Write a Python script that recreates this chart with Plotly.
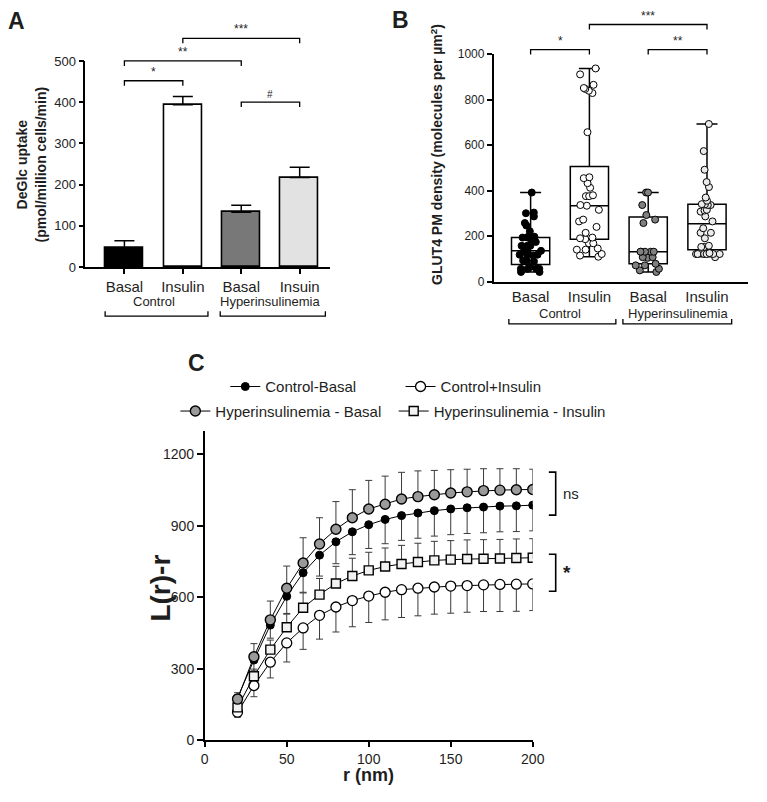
import plotly.graph_objects as go

W, H = 767, 802
FONT = "Liberation Sans, Arial, sans-serif"
TXT = "#1e1e1e"

# ---------------- data ----------------
# Panel A: 2-DeGlc uptake (mean + error)
a_labels = ["Basal", "Insulin", "Basal", "Insuin"]
a_values = [46, 394, 133, 217]
a_errors = [18, 20, 17, 25]
a_colors = ["#000000", "#ffffff", "#787878", "#e2e2e2"]
a_groups = ["Control", "Hyperinsulinemia"]

# Panel B: GLUT4 PM density (individual cells)
b_labels = ["Basal", "Insulin", "Basal", "Insulin"]
b_control_basal = [392, 301, 304, 287, 258, 247, 222, 198, 198, 198, 194, 194, 175, 175,
                   158, 158, 158, 136, 136, 136, 119, 119, 115, 119, 93, 89, 93, 65, 57,
                   57, 57, 57, 43, 43]
b_control_insulin = [937, 911, 865, 847, 839, 851, 829, 657, 455, 459, 433, 413, 380, 376,
                     376, 337, 334, 316, 265, 273, 241, 215, 191, 187, 194, 169, 169, 141,
                     146, 141, 122, 110, 115]
b_hyper_basal = [392, 392, 337, 273, 293, 258, 132, 132, 132, 132, 132, 108, 105, 108, 79,
                 72, 72, 43, 50, 57]
b_hyper_insulin = [693, 574, 492, 438, 416, 370, 356, 337, 337, 340, 341, 308, 313, 316,
                   287, 265, 235, 215, 215, 191, 153, 158, 153, 122, 126, 122, 122, 122,
                   122, 108, 122]
b_q1 = [76, 187, 79, 141]
b_median = [136, 334, 132, 255]
b_q3 = [194, 506, 284, 340]
b_min = [43, 110, 43, 110]
b_max = [392, 937, 392, 693]
b_fill = ["#000000", "#ffffff", "#808080", "#ebebeb"]

# Panel C: Ripley's L(r)-r
c_r = [20, 30, 40, 50, 60, 70, 80, 90, 100, 110, 120, 130, 140, 150, 160, 170, 180, 190, 200]
c_control_basal = [178, 336, 483, 604, 703, 777, 833, 875, 905, 927, 943, 954, 964, 971,
                   976, 979, 983, 984, 987]
c_control_insulin = [117, 229, 327, 408, 471, 524, 559, 586, 605, 621, 632, 638, 643, 647,
                     649, 652, 654, 655, 656]
c_hyper_basal = [172, 350, 505, 638, 744, 824, 886, 934, 971, 991, 1013, 1023, 1031, 1038,
                 1043, 1048, 1050, 1052, 1053]
c_hyper_insulin = [137, 268, 380, 474, 556, 611, 658, 689, 713, 729, 740, 748, 755, 758,
                   761, 762, 763, 765, 766]
c_control_basal_err = [18, 45, 55, 72, 82, 88, 92, 96, 100, 102, 104, 106, 107, 108, 108,
                       108, 108, 108, 108]
c_control_insulin_err = [21, 47, 66, 80, 90, 100, 105, 110, 111, 116, 117, 116, 114, 114,
                         112, 112, 114, 114, 112]
c_hyper_basal_err = [27, 55, 79, 93, 106, 110, 116, 118, 120, 118, 112, 108, 102, 98, 95,
                     92, 90, 88, 85]
c_hyper_insulin_err = [18, 30, 40, 55, 62, 68, 72, 75, 76, 78, 78, 79, 80, 80, 80, 80, 80,
                       80, 80]

# ---------------- geometry (pixels) ----------------
A_X0, A_X1, A_YT, A_YB = 83, 333, 55, 265
A_XR = (-0.67, 3.52)
A_YR = (0, 500)
B_X0, B_X1, B_YT, B_YB = 500, 760, 48, 280
B_XR = (-0.63, 3.7)
B_YR = (0, 1000)
C_X0, C_X1, C_YB = 205, 540, 747
C_YR = (0, 1300)
C_YT = C_YB - (C_YB - 456) * 1300 / 1200
C_XR = (0, 200)


def px2x(px):
    return px / W


def px2y(py):
    return 1 - py / H


def dmap(v, lo, hi, p0, p1):
    return p0 + (v - lo) / (hi - lo) * (p1 - p0)


def ax_px(v):
    return dmap(v, A_XR[0], A_XR[1], A_X0, A_X1)


def ay_px(v):
    return dmap(v, A_YR[0], A_YR[1], A_YB, A_YT)


def bx_px(v):
    return dmap(v, B_XR[0], B_XR[1], B_X0, B_X1)


def by_px(v):
    return dmap(v, B_YR[0], B_YR[1], B_YB, B_YT)


def cx_px(v):
    return dmap(v, C_XR[0], C_XR[1], C_X0, C_X1)


def cy_px(v):
    return dmap(v, C_YR[0], C_YR[1], C_YB, C_YT)


shapes = []
annotations = []


def path_shape(points, width=1.3):
    d = "M " + " L ".join(f"{px2x(x):.5f},{px2y(y):.5f}" for x, y in points)
    shapes.append(dict(type="path", path=d, xref="paper", yref="paper",
                       line=dict(color="black", width=width)))


def text(x, y, s, size=13, bold=False, angle=0, xanchor="center", yanchor="middle"):
    annotations.append(dict(x=px2x(x), y=px2y(y), xref="paper", yref="paper",
                            text=f"<b>{s}</b>" if bold else s, showarrow=False,
                            textangle=angle, xanchor=xanchor, yanchor=yanchor,
                            borderpad=0,
                            font=dict(family=FONT, size=size, color=TXT)))


def sig_bracket(x0, x1, y, label, size=12, drop=5):
    path_shape([(x0, y + drop), (x0, y), (x1, y), (x1, y + drop)])
    text((x0 + x1) / 2, y - 1, label, size=size, yanchor="bottom")


def group_bracket(x0, x1, y, rise=5):
    path_shape([(x0, y - rise), (x0, y), (x1, y), (x1, y - rise)])


fig = go.Figure()

# ---------------- Panel A ----------------
fig.add_trace(go.Bar(
    x=list(range(len(a_values))), y=a_values, width=0.65,
    marker=dict(color=a_colors, line=dict(color="black", width=1.6)),
    error_y=dict(type="data", symmetric=False, array=a_errors,
                 arrayminus=[0] * len(a_errors), color="black", thickness=1.5, width=10),
    xaxis="x", yaxis="y", showlegend=False))

sig_bracket(ax_px(0), ax_px(1), ay_px(452), "*")
sig_bracket(ax_px(0), ax_px(2), ay_px(500), "**")
sig_bracket(ax_px(1), ax_px(3), ay_px(555), "***")
sig_bracket(ax_px(2), ax_px(3), ay_px(400), "#", size=10)
text((ax_px(0) + ax_px(1)) / 2, 300, a_groups[0], size=13)
text((ax_px(2) + ax_px(3)) / 2, 300, a_groups[1], size=13)
group_bracket(ax_px(-0.33), ax_px(1.43), 315)
group_bracket(ax_px(1.64), ax_px(3.44), 315)
text(28, 160, "DeGlc uptake<br>(pmol/million cells/min)", size=14, bold=True, angle=-90)
text(13, 14, "A", size=23, bold=True)

# ---------------- Panel B ----------------
b_samples = [b_control_basal, b_control_insulin, b_hyper_basal, b_hyper_insulin]
for i in range(4):
    fig.add_trace(go.Box(
        x=[i], q1=[b_q1[i]], median=[b_median[i]], q3=[b_q3[i]],
        lowerfence=[b_min[i]], upperfence=[b_max[i]], width=0.65, whiskerwidth=0.55,
        boxpoints=False, fillcolor="white", line=dict(color="black", width=1.5),
        xaxis="x2", yaxis="y2", showlegend=False, hoverinfo="skip"))
for i in range(4):
    vals = b_samples[i]
    fig.add_trace(go.Box(
        x=[i] * len(vals), y=vals, width=0.65, boxpoints="all", jitter=0.9, pointpos=0,
        fillcolor="rgba(0,0,0,0)", line=dict(color="rgba(0,0,0,0)", width=0),
        marker=dict(size=7, color=b_fill[i], line=dict(color="black", width=1)),
        xaxis="x2", yaxis="y2", showlegend=False))

sig_bracket(bx_px(0), bx_px(1), by_px(1020), "*")
sig_bracket(bx_px(1), bx_px(3), by_px(1130), "***")
sig_bracket(bx_px(2), bx_px(3), by_px(1020), "**")
text((bx_px(0) + bx_px(1)) / 2, 312, a_groups[0], size=13)
text((bx_px(2) + bx_px(3)) / 2, 312, a_groups[1], size=13)
group_bracket(bx_px(-0.37), bx_px(1.45), 323)
group_bracket(bx_px(1.57), bx_px(3.42), 323)
text(442, 150, "GLUT4 PM density (molecules per µm<sup>2</sup>)", size=14, bold=True, angle=-90)
text(405, 13, "B", size=23, bold=True)

# ---------------- Panel C ----------------
series = [
    ("Control+Insulin", c_control_insulin, c_control_insulin_err, "down",
     dict(symbol="circle", size=10, color="white", line=dict(color="black", width=1.3)), "legend2"),
    ("Hyperinsulinemia - Insulin", c_hyper_insulin, c_hyper_insulin_err, "up",
     dict(symbol="square", size=9, color="#f2f2f2", line=dict(color="black", width=1.4)), "legend4"),
    ("Control-Basal", c_control_basal, c_control_basal_err, "down",
     dict(symbol="circle", size=8, color="black", line=dict(color="black", width=1)), "legend"),
    ("Hyperinsulinemia - Basal", c_hyper_basal, c_hyper_basal_err, "up",
     dict(symbol="circle", size=10, color="#9a9a9a", line=dict(color="black", width=1.4)), "legend3"),
]
for name, vals, err, direction, marker, leg in series:
    zeros = [0] * len(err)
    fig.add_trace(go.Scatter(
        x=c_r, y=vals, mode="lines+markers", name=name,
        line=dict(color="black", width=1), marker=marker,
        error_y=dict(type="data", symmetric=False,
                     array=err if direction == "up" else zeros,
                     arrayminus=err if direction == "down" else zeros,
                     color="#3a3a3a", thickness=1, width=3.5),
        xaxis="x3", yaxis="y3", legend=leg, showlegend=True))

# significance brackets at right of panel C
bx = cx_px(214)
for y0, y1, lab, sz in [(1126, 945, "ns", 15), (781, 625, "*", 19)]:
    path_shape([(bx - 7, cy_px(y0)), (bx, cy_px(y0)), (bx, cy_px(y1)), (bx - 7, cy_px(y1))],
               width=1.6)
    text(bx + 6, (cy_px(y0) + cy_px(y1)) / 2, f"<b>{lab}</b>" if lab == "*" else lab,
         size=sz, xanchor="left")

text((C_X0 + C_X1) / 2, 783, "r (nm)", size=18, bold=True)
text(160, 592, "L(r)-r", size=28, bold=True, angle=-90)
text(197, 363, "C", size=23, bold=True)


def legend_at(xpx, ypx):
    return dict(x=px2x(xpx), y=px2y(ypx), xanchor="left", yanchor="middle",
                orientation="h", bgcolor="rgba(0,0,0,0)", itemwidth=30,
                font=dict(family=FONT, size=15, color=TXT), tracegroupgap=0)


axis_common = dict(showline=True, linecolor="black", linewidth=1.5, ticks="outside",
                   tickcolor="black", tickwidth=1.5, showgrid=False, zeroline=False,
                   tickfont=dict(family=FONT, color=TXT))

fig.update_layout(
    width=W, height=H, margin=dict(l=0, r=0, t=0, b=0),
    paper_bgcolor="white", plot_bgcolor="white",
    boxmode="overlay", bargap=0,
    xaxis=dict(axis_common, domain=[px2x(A_X0), px2x(A_X1)], range=list(A_XR),
               tickvals=[0, 1, 2, 3], ticktext=a_labels, ticklen=5,
               tickfont=dict(family=FONT, size=15, color=TXT), anchor="y"),
    yaxis=dict(axis_common, domain=[px2y(A_YB), px2y(A_YT)], range=list(A_YR),
               dtick=100, ticklen=5, tickfont=dict(family=FONT, size=13, color=TXT),
               anchor="x"),
    xaxis2=dict(axis_common, domain=[px2x(B_X0), px2x(B_X1)], range=list(B_XR),
                tickvals=[0, 1, 2, 3], ticktext=b_labels, ticks="", ticklen=0,
                tickfont=dict(family=FONT, size=15, color=TXT), anchor="y2"),
    yaxis2=dict(axis_common, domain=[px2y(B_YB), px2y(B_YT)], range=list(B_YR),
                dtick=200, ticklen=5, tickfont=dict(family=FONT, size=12, color=TXT),
                anchor="x2"),
    xaxis3=dict(axis_common, domain=[px2x(C_X0), px2x(C_X1)], range=list(C_XR),
                dtick=50, ticklen=5, tickfont=dict(family=FONT, size=14, color=TXT),
                anchor="y3"),
    yaxis3=dict(axis_common, domain=[px2y(C_YB), px2y(C_YT)], range=list(C_YR),
                tickvals=[0, 300, 600, 900, 1200], ticklen=6,
                tickfont=dict(family=FONT, size=14, color=TXT), anchor="x3"),
    legend=legend_at(226, 387),
    legend2=legend_at(405, 387),
    legend3=legend_at(175, 412),
    legend4=legend_at(398, 412),
    shapes=shapes, annotations=annotations,
)

# remove the browser's default page margin so the figure sits at the window origin
fig.write_html("out.html", config={"displayModeBar": False},
               post_script="document.body.style.margin='0px';")
